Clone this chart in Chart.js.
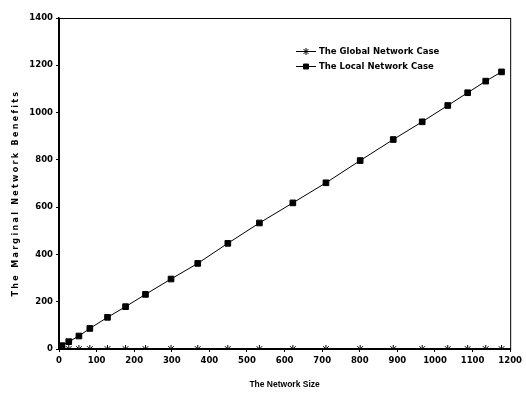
<!DOCTYPE html>
<html>
<head>
<meta charset="utf-8">
<script src="https://cdn.jsdelivr.net/npm/chart.js@4.4.1/dist/chart.umd.min.js"></script>
<style>
  body { margin: 0; background: #fff; }
  #wrap { width: 526px; height: 394px; }
</style>
</head>
<body>
<div id="wrap"><canvas id="benefitChart" width="526" height="394"></canvas></div>
<script>
// network sizes
const networkSize = [0, 8, 26, 53, 82, 129, 177, 230, 298, 369, 449, 533, 622, 710, 801, 889, 966, 1034, 1087, 1135, 1177];
const globalBenefit = [0, 0, 0, 0, 0, 0, 0, 0, 0, 0, 0, 0, 0, 0, 0, 0, 0, 0, 0, 0, 0];
const localBenefit = [3, 14, 31, 55, 87, 134, 179, 231, 296, 362, 447, 533, 618, 703, 797, 886, 961, 1030, 1084, 1133, 1172];
const seriesNames = ['The Global Network Case', 'The Local Network Case'];
const xTitle = 'The Network Size';
const yTitle = 'The Marginal Network Benefits';

const toPoints = (ys) => networkSize.map((x, i) => ({ x: x, y: ys[i] }));

const tickFont = { family: 'DejaVu Sans', size: 8.5, weight: 'bold' };

// frame, legend in the plot, letter-spaced y title
const extras = {
  id: 'extras',
  afterDraw(chart) {
    const { ctx, chartArea } = chart;
    ctx.save();
    ctx.strokeStyle = '#000';
    ctx.lineWidth = 1;
    ctx.strokeRect(chartArea.left + 0.5, chartArea.top + 0.5, chartArea.right - chartArea.left, chartArea.bottom - chartArea.top);

    // legend
    const items = [
      { label: seriesNames[0], style: 'star', y: 51 },
      { label: seriesNames[1], style: 'rect', y: 66 }
    ];
    ctx.font = 'bold 8.5px "DejaVu Sans"';
    ctx.textBaseline = 'middle';
    items.forEach(it => {
      ctx.beginPath();
      ctx.moveTo(296, it.y + 0.5);
      ctx.lineTo(316, it.y + 0.5);
      ctx.lineWidth = 1;
      ctx.stroke();
      Chart.helpers.drawPoint(ctx, { pointStyle: it.style, radius: 3.5, borderWidth: 1 }, 306, it.y + 0.5);
      if (it.style === 'rect') ctx.fill();
      ctx.fillStyle = '#000';
      ctx.fillText(it.label, 319, it.y + 1);
    });

    // y axis title
    ctx.translate(16, 193);
    ctx.rotate(-Math.PI / 2);
    ctx.font = 'bold 8px "DejaVu Sans"';
    ctx.letterSpacing = '2.3px';
    ctx.textAlign = 'center';
    ctx.fillText(yTitle, 0, 0);
    ctx.restore();
  }
};

new Chart(document.getElementById('benefitChart').getContext('2d'), {
  type: 'scatter',
  data: {
    datasets: [
      {
        label: seriesNames[0],
        data: toPoints(globalBenefit),
        showLine: true,
        borderColor: '#000',
        backgroundColor: '#000',
        borderWidth: 1,
        pointStyle: 'star',
        pointRadius: 4,
        pointBorderWidth: 1
      },
      {
        label: seriesNames[1],
        data: toPoints(localBenefit),
        showLine: true,
        borderColor: '#000',
        backgroundColor: '#000',
        borderWidth: 1,
        pointStyle: 'rect',
        pointRadius: 4,
        pointBorderWidth: 1
      }
    ]
  },
  options: {
    responsive: false,
    animation: false,
    layout: { padding: { top: 18, right: 12, left: 0, bottom: 0 } },
    plugins: {
      legend: { display: false },
      tooltip: { enabled: false }
    },
    scales: {
      x: {
        type: 'linear',
        min: 0,
        max: 1200,
        afterFit: (s) => { s.height = 45; },
        border: { color: '#000', width: 1.5 },
        grid: { drawOnChartArea: false, color: '#000', tickLength: 3 },
        ticks: { stepSize: 100, color: '#000', font: tickFont, maxRotation: 0, padding: 4, callback: (v) => String(v) },
        title: { display: true, text: xTitle, color: '#000', font: { family: 'Liberation Sans', size: 8.5, weight: 'bold' }, padding: { top: 6 } }
      },
      y: {
        min: 0,
        max: 1400,
        afterFit: (s) => { s.width = 59; },
        border: { color: '#000', width: 1.5 },
        grid: { drawOnChartArea: false, color: '#000', tickLength: 3 },
        ticks: { stepSize: 200, color: '#000', font: tickFont, padding: 3, callback: (v) => String(v) }
      }
    }
  },
  plugins: [extras]
});
</script>
</body>
</html>
